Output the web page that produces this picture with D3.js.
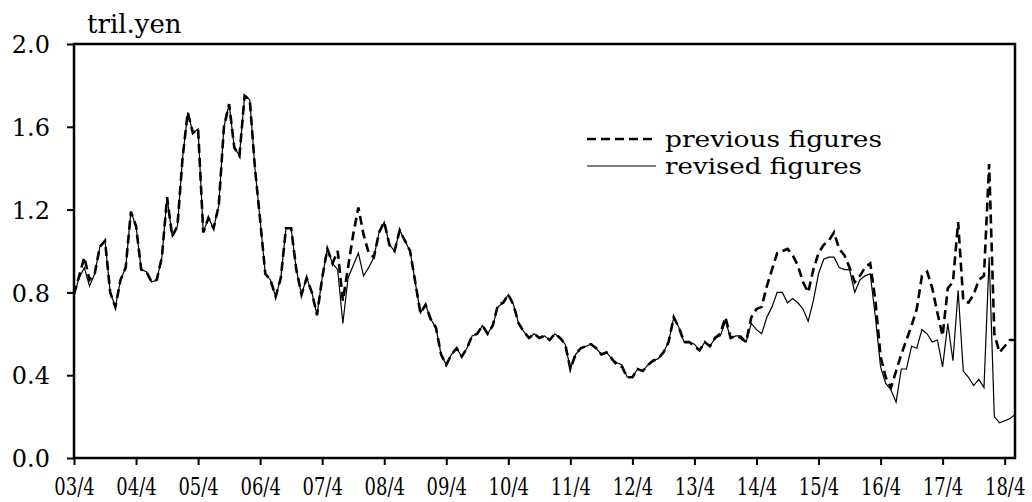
<!DOCTYPE html>
<html>
<head>
<meta charset="utf-8">
<script src="https://cdn.jsdelivr.net/npm/d3@7"></script>
<style>
  body { margin: 0; background: #fff; }
  text { font-family: "DejaVu Serif", "Liberation Serif", serif; fill: #000; }
</style>
</head>
<body>
<div id="chart"></div>
<script>
// monthly, from 2003/4 (index 0) to 2018/6
var revised = [
  0.79, 0.87, 0.92, 0.83, 0.89, 1.02, 1.05, 0.80, 0.73, 0.86, 0.92, 1.19,
  1.12, 0.91, 0.90, 0.85, 0.86, 0.97, 1.26, 1.07, 1.12, 1.45, 1.67, 1.57,
  1.59, 1.09, 1.16, 1.11, 1.22, 1.60, 1.71, 1.50, 1.46, 1.75, 1.73, 1.40,
  1.15, 0.89, 0.86, 0.78, 0.87, 1.11, 1.11, 0.91, 0.79, 0.87, 0.80, 0.69,
  0.87, 1.01, 0.94, 0.91, 0.65, 0.87, 0.93, 0.99, 0.88, 0.92, 0.97, 1.09,
  1.14, 1.03, 1.00, 1.10, 1.05, 1.00, 0.85, 0.70, 0.74, 0.67, 0.63, 0.50,
  0.45, 0.50, 0.53, 0.49, 0.53, 0.59, 0.60, 0.64, 0.60, 0.64, 0.73, 0.75,
  0.79, 0.74, 0.65, 0.61, 0.58, 0.60, 0.58, 0.59, 0.57, 0.60, 0.58, 0.55,
  0.43, 0.50, 0.53, 0.54, 0.55, 0.53, 0.50, 0.51, 0.48, 0.46, 0.45, 0.39,
  0.39, 0.43, 0.42, 0.45, 0.47, 0.48, 0.51, 0.56, 0.68, 0.63, 0.56, 0.56,
  0.55, 0.52, 0.56, 0.54, 0.58, 0.59, 0.66, 0.58, 0.59, 0.59, 0.56, 0.65,
  0.62, 0.60, 0.68, 0.73, 0.80, 0.80, 0.75, 0.77, 0.75, 0.72, 0.66, 0.76,
  0.89, 0.96, 0.97, 0.97, 0.92, 0.91, 0.91, 0.80, 0.86, 0.88, 0.89, 0.68,
  0.44, 0.36, 0.33, 0.27, 0.43, 0.43, 0.54, 0.53, 0.62, 0.60, 0.56, 0.57,
  0.44, 0.65, 0.47, 0.81, 0.42, 0.39, 0.35, 0.38, 0.34, 0.97, 0.20, 0.17,
  0.18, 0.19, 0.21
];
var previous = [
  0.79, 0.88, 0.97, 0.86, 0.89, 1.02, 1.05, 0.80, 0.73, 0.86, 0.92, 1.19,
  1.12, 0.91, 0.90, 0.85, 0.86, 0.97, 1.26, 1.07, 1.12, 1.45, 1.67, 1.57,
  1.59, 1.09, 1.16, 1.11, 1.22, 1.60, 1.71, 1.50, 1.46, 1.75, 1.73, 1.40,
  1.15, 0.89, 0.86, 0.78, 0.87, 1.11, 1.11, 0.91, 0.79, 0.87, 0.80, 0.69,
  0.87, 1.01, 0.94, 1.00, 0.76, 0.92, 1.08, 1.21, 1.08, 0.99, 0.97, 1.09,
  1.14, 1.03, 1.00, 1.10, 1.05, 1.00, 0.85, 0.70, 0.74, 0.67, 0.63, 0.50,
  0.45, 0.50, 0.53, 0.49, 0.53, 0.59, 0.60, 0.64, 0.60, 0.64, 0.74, 0.75,
  0.79, 0.74, 0.65, 0.61, 0.58, 0.60, 0.58, 0.59, 0.57, 0.60, 0.58, 0.55,
  0.43, 0.50, 0.53, 0.54, 0.55, 0.53, 0.50, 0.51, 0.48, 0.45, 0.44, 0.39,
  0.39, 0.43, 0.42, 0.45, 0.47, 0.48, 0.51, 0.56, 0.68, 0.63, 0.56, 0.56,
  0.54, 0.52, 0.56, 0.54, 0.58, 0.60, 0.68, 0.58, 0.59, 0.58, 0.56, 0.68,
  0.72, 0.73, 0.83, 0.91, 0.99, 1.00, 1.01, 0.98, 0.93, 0.85, 0.80, 0.91,
  0.99, 1.03, 1.05, 1.09, 1.01, 0.98, 0.92, 0.85, 0.88, 0.92, 0.94, 0.76,
  0.49, 0.39, 0.34, 0.42, 0.50, 0.57, 0.64, 0.72, 0.88, 0.90, 0.82, 0.70,
  0.59, 0.82, 0.85, 1.14, 0.76, 0.75, 0.79, 0.86, 0.88, 1.42, 0.60, 0.51,
  0.54, 0.57, 0.57
];
var yearLabels = ["03/4","04/4","05/4","06/4","07/4","08/4","09/4","10/4",
                  "11/4","12/4","13/4","14/4","15/4","16/4","17/4","18/4"];
var yTicks = [0, 0.4, 0.8, 1.2, 1.6, 2.0];
var seriesNames = ["previous figures", "revised figures"];
var legendWidths = [217, 197];

var width = 1032, height = 502;
var plotLeft = 74, plotRight = 1015, plotTop = 44, plotBottom = 458;

var svg = d3.select("#chart").append("svg")
  .attr("width", width)
  .attr("height", height);

var x = d3.scaleLinear().domain([0, revised.length - 1]).range([plotLeft, plotRight]);
var y = d3.scaleLinear().domain([0, 2.0]).range([plotBottom, plotTop]);

// y axis
var yAxis = d3.axisLeft(y).tickValues(yTicks).tickSize(7).tickPadding(17)
  .tickFormat(d3.format(".1f"));
var yAxisG = svg.append("g").attr("transform", "translate(" + plotLeft + ",0)").call(yAxis);
yAxisG.select(".domain").remove();
yAxisG.selectAll("line").attr("stroke", "#000").attr("stroke-width", 2);
yAxisG.selectAll("text").attr("font-size", 24).attr("dy", "0.36em")
  .style("font-family", "'DejaVu Serif', serif");

// x axis, one tick every 12 months; labels squeezed sideways like the original
var xAxis = d3.axisBottom(x).tickValues(yearLabels.map(function(d, i) { return i * 12; }))
  .tickSize(7).tickPadding(0)
  .tickFormat(function(d, i) { return yearLabels[i]; });
var xAxisG = svg.append("g").attr("transform", "translate(0," + plotBottom + ")").call(xAxis);
xAxisG.select(".domain").remove();
xAxisG.selectAll("line").attr("stroke", "#000").attr("stroke-width", 2);
xAxisG.selectAll("text")
  .attr("font-size", 25)
  .attr("y", 0).attr("dy", 0)
  .attr("transform", "translate(0,37) scale(0.72,1)")
  .style("font-family", "'DejaVu Serif', serif");

// plot box
svg.append("rect")
  .attr("x", plotLeft).attr("y", plotTop)
  .attr("width", plotRight - plotLeft).attr("height", plotBottom - plotTop)
  .attr("fill", "none").attr("stroke", "#000").attr("stroke-width", 2.5);

svg.append("text").attr("x", 87).attr("y", 33).attr("font-size", 26).text("tril.yen");

var line = d3.line()
  .x(function(d, i) { return x(i); })
  .y(function(d) { return y(d); });

svg.append("path").datum(previous)
  .attr("d", line).attr("fill", "none").attr("stroke", "#000")
  .attr("stroke-width", 2.6).attr("stroke-dasharray", "9,5");

svg.append("path").datum(revised)
  .attr("d", line).attr("fill", "none").attr("stroke", "#000")
  .attr("stroke-width", 1.2);

// legend
var legend = svg.append("g");
legend.append("line").attr("x1", 587).attr("x2", 654).attr("y1", 139).attr("y2", 139)
  .attr("stroke", "#000").attr("stroke-width", 2.6).attr("stroke-dasharray", "9,5");
legend.append("line").attr("x1", 587).attr("x2", 656).attr("y1", 166).attr("y2", 166)
  .attr("stroke", "#000").attr("stroke-width", 1.2);
legend.selectAll("text.lg").data(seriesNames).enter().append("text")
  .attr("class", "lg")
  .attr("x", 665)
  .attr("y", function(d, i) { return 139 + i * 27; })
  .attr("dy", "0.33em")
  .attr("font-size", 23)
  .attr("textLength", function(d, i) { return legendWidths[i]; })
  .attr("lengthAdjust", "spacingAndGlyphs")
  .text(function(d) { return d; });
</script>
</body>
</html>
